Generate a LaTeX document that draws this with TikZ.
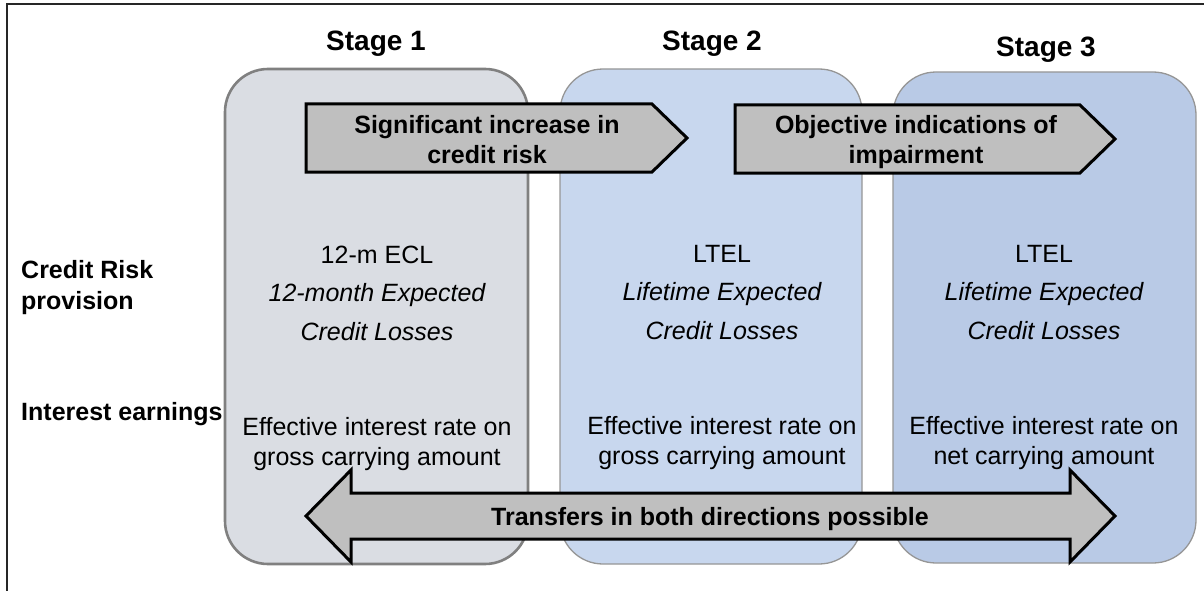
\documentclass[tikz,border=0pt]{standalone}
\usepackage{fontspec}
\setmainfont{Liberation Sans}
\definecolor{boxgrey}{RGB}{218,221,227}
\definecolor{boxblue}{RGB}{200,215,238}
\definecolor{boxdeep}{RGB}{185,202,230}
\definecolor{bannergrey}{RGB}{191,191,191}
\definecolor{edgegrey}{RGB}{128,128,128}
\definecolor{edgelight}{RGB}{150,150,150}
\begin{document}
\begin{tikzpicture}[x=1pt,y=-1pt,
  stagebox/.style={rounded corners=43pt},
  banner/.style={fill=bannergrey, draw=black, line width=3pt, line join=miter},
  txt/.style={inner sep=0pt, anchor=base, font=\fontsize{25}{30}\selectfont},
  btxt/.style={txt, font=\fontsize{25}{30}\selectfont\bfseries},
  itxt/.style={txt, font=\fontsize{25}{30}\selectfont\itshape},
  title/.style={inner sep=0pt, anchor=base, font=\fontsize{28}{32}\selectfont\bfseries},
  lbl/.style={inner sep=0pt, anchor=base west, font=\fontsize{25}{30}\selectfont\bfseries}]
\useasboundingbox (0,0) rectangle (1204,591);

% outer frame (left and top edges)
\draw[black!85, line width=1.5pt] (7,591) -- (7,4) -- (1204,4);

% stage panels
\draw[stagebox, fill=boxgrey, draw=edgegrey, line width=2.6pt] (225,69) rectangle (528,564);
\draw[stagebox, fill=boxblue, draw=edgelight, line width=1.3pt] (560,69) rectangle (862,564);
\draw[stagebox, fill=boxdeep, draw=edgelight, line width=1.3pt] (893,72) rectangle (1196,563);

% stage titles
\node[title] (t1) at (376,51) {Stage 1};
\node[title] (t2) at (712,51) {Stage 2};
\node[title] (t3) at (1046,57) {Stage 3};

% transition banners
\draw[banner] (306,104) -- (652,104) -- (687,138) -- (652,172) -- (306,172) -- cycle;
\draw[banner] (735,105) -- (1080,105) -- (1115,139) -- (1080,173) -- (735,173) -- cycle;
\node[btxt] (a1a) at (487,133) {Significant increase in};
\node[btxt] (a1b) at (487,163) {credit risk};
\node[btxt] (a2a) at (916,133) {Objective indications of};
\node[btxt] (a2b) at (916,163) {impairment};

% row labels
\node[lbl] (crp1) at (21,278) {Credit Risk};
\node[lbl] (crp2) at (21,309) {provision};
\node[lbl] (ie) at (21,420) {Interest earnings};

% stage 1 contents
\node[txt]  (s1a) at (377,263) {12-m ECL};
\node[itxt] (s1b) at (377,301) {12-month Expected};
\node[itxt] (s1c) at (377,340) {Credit Losses};
\node[txt]  (s1d) at (377,435) {Effective interest rate on};
\node[txt]  (s1e) at (377,465) {gross carrying amount};

% stage 2 contents
\node[txt]  (s2a) at (722,262) {LTEL};
\node[itxt] (s2b) at (722,300) {Lifetime Expected};
\node[itxt] (s2c) at (722,339) {Credit Losses};
\node[txt]  (s2d) at (722,434) {Effective interest rate on};
\node[txt]  (s2e) at (722,464) {gross carrying amount};

% stage 3 contents
\node[txt]  (s3a) at (1044,262) {LTEL};
\node[itxt] (s3b) at (1044,300) {Lifetime Expected};
\node[itxt] (s3c) at (1044,339) {Credit Losses};
\node[txt]  (s3d) at (1044,434) {Effective interest rate on};
\node[txt]  (s3e) at (1044,464) {net carrying amount};

% two-way transfer arrow
\draw[banner] (306,516) -- (351,470) -- (351,493) -- (1070,493) -- (1070,470)
  -- (1115,516) -- (1070,562) -- (1070,539) -- (351,539) -- (351,562) -- cycle;
\node[btxt] (tr) at (710,525) {Transfers in both directions possible};
\end{tikzpicture}
\end{document}
